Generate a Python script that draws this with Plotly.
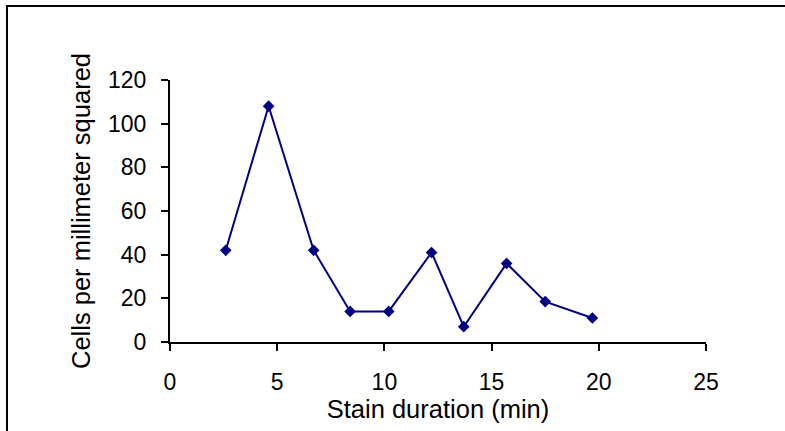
import plotly.graph_objects as go

duration_min = [2.6, 4.6, 6.7, 8.4, 10.2, 12.2, 13.7, 15.7, 17.5, 19.7]
cells_per_mm2 = [42, 108, 42, 14, 14, 41, 7, 36, 18.5, 11]
x_ticks = [0, 5, 10, 15, 20, 25]
y_ticks = [0, 20, 40, 60, 80, 100, 120]

NAVY = "#000080"
FONT = "Arial, 'Liberation Sans', sans-serif"

fig = go.Figure()
fig.add_trace(go.Scatter(
    x=duration_min, y=cells_per_mm2, mode="lines+markers",
    line=dict(color=NAVY, width=2),
    marker=dict(symbol="diamond", size=9, color=NAVY),
    showlegend=False,
))

L, R, T, B = 170, 79, 80, 89
W, H = 785, 431
pw, ph = W - L - R, H - T - B

def px(xp):
    return (xp - L) / pw

def py(yp):
    return (H - B - yp) / ph

fig.add_shape(type="path", xref="paper", yref="paper",
              path=f"M {px(7)} {py(470)} L {px(7)} {py(6)} L {px(820)} {py(6)}",
              line=dict(color="black", width=2))

axis_common = dict(
    showgrid=False, zeroline=False, showline=True, linecolor="black", linewidth=2,
    ticks="outside", ticklen=7, tickwidth=2, tickcolor="black",
    tickfont=dict(family=FONT, size=23, color="black"),
)
TITLE_FONT = dict(family=FONT, size=25.5, color="black")
fig.update_xaxes(range=[0, 25], tickvals=x_ticks, **axis_common,
                 title=dict(text="Stain duration (min)", font=TITLE_FONT, standoff=3),
                 ticklabelstandoff=11)
fig.update_yaxes(range=[0, 120], tickvals=y_ticks, **axis_common,
                 title=dict(text="Cells per millimeter squared", font=TITLE_FONT, standoff=10),
                 ticklabelstandoff=10)

fig.update_layout(
    width=W, height=H, margin=dict(l=L, r=R, t=T, b=B),
    plot_bgcolor="white", paper_bgcolor="white",
)
fig.write_html("out.html")
